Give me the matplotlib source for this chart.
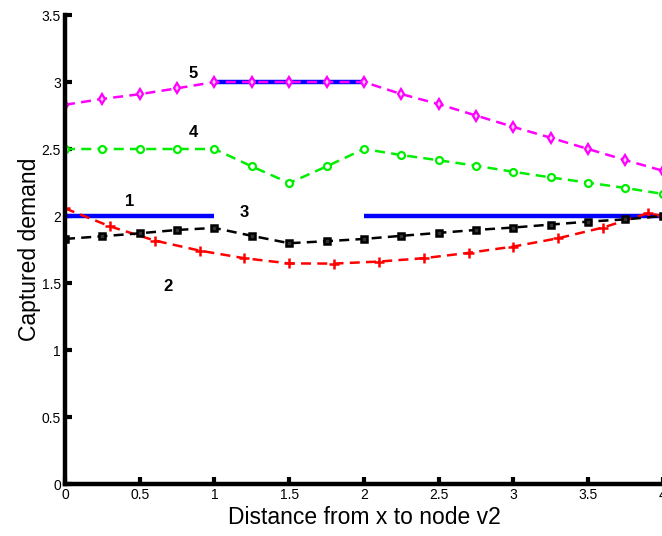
import numpy as np
import matplotlib
matplotlib.use("Agg")
import matplotlib.pyplot as plt

plt.rcParams['font.family'] = ['Liberation Sans', 'DejaVu Sans']

# series 1: solid blue piecewise line (NaN breaks the jumps)
x1 = [0, 1, np.nan, 1, 2, np.nan, 2, 4]
y1 = [2, 2, np.nan, 3, 3, np.nan, 2, 2]

# x grid for series 3, 4, 5
xq = [0, 0.25, 0.5, 0.75, 1, 1.25, 1.5, 1.75, 2, 2.25, 2.5, 2.75, 3, 3.25, 3.5, 3.75, 4]

# series 2 (red +)
x2 = [0, 0.3, 0.6, 0.9, 1.2, 1.5, 1.8, 2.1, 2.4, 2.7, 3.0, 3.3, 3.6, 3.9, 4.0]
y2 = [2.057, 1.923, 1.817, 1.742, 1.685, 1.646, 1.645, 1.66, 1.685, 1.725, 1.772, 1.834, 1.914, 2.02, 2.0]

# series 3 (black squares)
y3 = [1.829, 1.849, 1.871, 1.896, 1.911, 1.852, 1.797, 1.812, 1.829, 1.852, 1.874,
      1.896, 1.914, 1.936, 1.958, 1.975, 2.0]

# series 4 (green circles)
y4 = [2.5, 2.5, 2.5, 2.5, 2.5, 2.37, 2.246, 2.37, 2.5, 2.455, 2.416, 2.375, 2.33,
      2.288, 2.249, 2.209, 2.165]

# series 5 (magenta diamonds)
y5 = [2.83, 2.874, 2.909, 2.953, 3.0, 3.0, 3.0, 3.0, 3.0, 2.91, 2.835, 2.75, 2.665,
      2.584, 2.5, 2.417, 2.338]

labels = ['1', '2', '3', '4', '5']
label_x = [0.435, 0.69, 1.197, 0.856, 0.856]
label_y = [2.107, 1.474, 2.025, 2.62, 3.06]

fig = plt.figure(figsize=(6.62, 5.36), dpi=100)
ax = fig.add_axes([0.0982, 0.097, 0.903, 0.875])

dash = (0, (4, 2.5))
ax.plot(x1, y1, color='#0000ff', lw=3.2, solid_capstyle='butt')
ax.plot(x2, y2, color='#ff0000', ls=dash, lw=1.8, marker='+', ms=7, mew=1.8)
ax.plot(xq, y3, color='black', ls=dash, lw=1.8, marker='s', ms=4.5, mew=1.8, mfc='#333333')
ax.plot(xq, y4, color='#00ee00', ls=dash, lw=1.8, marker='o', ms=5, mew=1.6, mfc='white')
ax.plot(xq, y5, color='#ff00ff', ls=dash, lw=1.8, marker='d', ms=5.5, mew=1.6, mfc='#ffccff')

for t, lx, ly in zip(labels, label_x, label_y):
    ax.text(lx, ly, t, fontsize=12, fontweight='bold', ha='center', va='center')

ax.set_xlim(0, 4)
ax.set_ylim(0, 3.5)
ax.set_xticks(np.arange(0, 4.01, 0.5))
ax.set_yticks(np.arange(0, 3.51, 0.5))
ax.set_xticklabels(['0', '0.5', '1', '1.5', '2', '2.5', '3', '3.5', '4'])
ax.set_yticklabels(['0', '0.5', '1', '1.5', '2', '2.5', '3', '3.5'])
ax.tick_params(direction='in', length=5, width=3, labelsize=10, pad=3)

for s in ['top', 'right']:
    ax.spines[s].set_visible(False)
for s in ['left', 'bottom']:
    ax.spines[s].set_linewidth(3.2)

ax.set_xlabel('Distance from x to node v2', fontsize=16.5, labelpad=3)
ax.set_ylabel('Captured demand', fontsize=16.5, labelpad=0)

plt.savefig('out.png', dpi=100)
